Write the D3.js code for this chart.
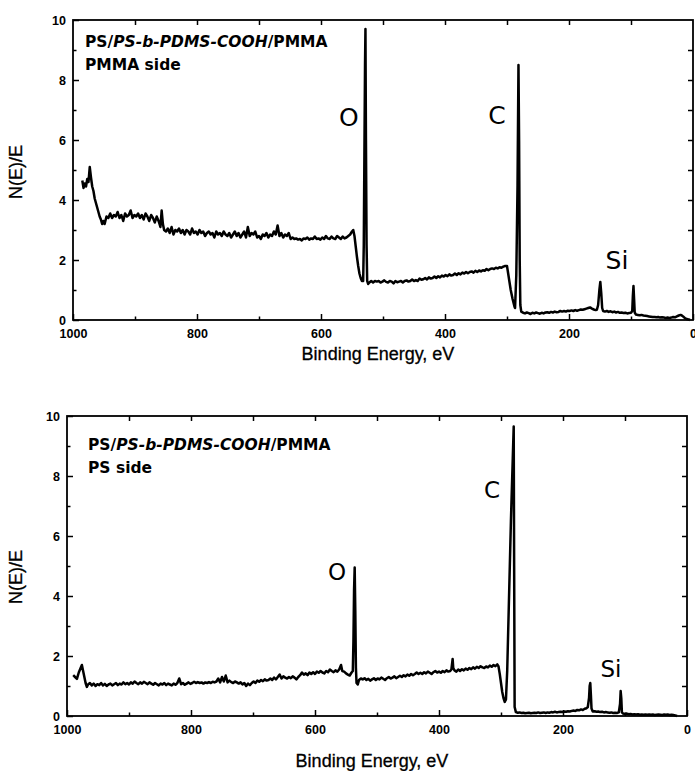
<!DOCTYPE html>
<html>
<head>
<meta charset="utf-8">
<script src="https://cdn.jsdelivr.net/npm/d3@7"></script>
<style>
body { margin: 0; background: #fff; }
</style>
</head>
<body>
<div id="app"></div>
<script>
// axis ticks
var xMajor = [1000, 800, 600, 400, 200, 0];
var xMinor = [900, 700, 500, 300, 100];
var yMajor = [0, 2, 4, 6, 8, 10];
var yMinor = [1, 3, 5, 7, 9];
var yAll = [1, 2, 3, 4, 5, 6, 7, 8, 9];
var xAll = [900, 800, 700, 600, 500, 400, 300, 200, 100];

// PMMA side spectrum: [binding energy eV, N(E)/E]
var pmmaSide = [[985,4.65],[983,4.4],[981,4.55],[979,4.45],[977,4.7],[975,4.6],[973,5.1],[971,4.75],[969,4.45],[967,4.3],[965,4.05],[963,3.9],[961,3.75],[959,3.6],[957,3.45],[955,3.35],[953,3.2],[951,3.3],[949,3.2],
[946,3.45],[943,3.4],[940,3.55],[937,3.4],[934,3.5],[931,3.45],[928,3.6],[925,3.4],[922,3.5],[919,3.3],[916,3.55],[913,3.45],[910,3.5],[907,3.65],[904,3.4],[901,3.5],[898,3.45],[895,3.55],[892,3.4],[889,3.5],[886,3.35],[883,3.55],[880,3.45],[877,3.3],[874,3.5],[871,3.4],[868,3.25],[865,3.45],[862,3.3],[859,3.1],[857,3.65],[855,3.2],[853,3.0],
[850,2.95],[847,3.05],[844,2.9],[841,3.1],[838,2.85],[835,3.0],[832,2.95],[829,3.05],[826,2.9],[823,3.0],[820,2.85],[817,3.0],[814,2.95],[811,2.85],[808,3.05],[805,2.9],[802,2.95],[799,2.85],[796,3.0],[793,2.9],[790,2.95],[787,2.8],[784,2.9],[781,2.95],[778,2.85],[775,2.9],[772,2.75],[769,2.95],[766,2.85],[763,2.9],[760,2.8],[757,2.95],[754,2.85],[751,2.8],[748,2.9],[745,2.75],[742,2.85],[739,2.95],[736,2.8],[733,2.9],[730,2.75],[727,2.85],[724,2.95],[721,2.75],[718,3.1],[715,2.8],[712,2.9],[709,2.85],[706,2.95],[703,2.75],[700,2.8],[697,2.7],[694,2.85],[691,2.8],[688,2.9],[685,2.75],[682,2.85],[679,2.8],[676,2.95],[673,2.85],[670,3.15],[667,2.8],[664,2.9],[661,2.75],[658,2.85],[655,2.8],[652,2.9],[649,2.7],[646,2.75],[643,2.7],[640,2.72],[637,2.68],[634,2.7],[631,2.65],[628,2.72],[625,2.7],[622,2.75],[619,2.68],[616,2.72],[613,2.7],[610,2.78],[607,2.7],[604,2.72],[601,2.68],[598,2.75],[595,2.7],[592,2.8],[589,2.72],[586,2.7],[583,2.78],[580,2.72],[577,2.7],[574,2.8],[571,2.75],[568,2.7],[565,2.78],[562,2.72],[559,2.75],[556,2.8],[553,2.85],[550,2.95],[548,3.0],
[546,2.8],[544,2.45],[542,2.1],[540,1.8],[538,1.55],[536,1.4],[534,1.3],[532,1.3],[531,2.5],[530,5.5],[529,8.5],[528.3,9.7],[527.5,6],[526.5,2.5],[525.5,1.3],[524,1.2],[522,1.25],
[519,1.3],[516,1.25],[513,1.3],[510,1.28],[507,1.3],[504,1.25],[501,1.28],[498,1.32],[495,1.27],[492,1.25],[489,1.3],[486,1.28],[483,1.22],[480,1.3],[477,1.26],[474,1.28],[471,1.3],[468,1.25],[465,1.3],[462,1.32],[459,1.28],[456,1.3],[453,1.35],[450,1.3],[447,1.33],[444,1.3],[441,1.38],[438,1.34],[435,1.36],[432,1.4],[429,1.35],[426,1.42],[423,1.38],[420,1.4],[417,1.45],[414,1.4],[411,1.46],[408,1.42],[405,1.48],[402,1.45],[399,1.5],[396,1.46],[393,1.52],[390,1.48],[387,1.5],[384,1.55],[381,1.5],[378,1.56],[375,1.52],[372,1.58],[369,1.55],[366,1.6],[363,1.56],[360,1.6],[357,1.62],[354,1.58],[351,1.64],[348,1.6],[345,1.65],[342,1.62],[339,1.66],[336,1.64],[333,1.7],[330,1.66],[327,1.7],[324,1.72],[321,1.7],[318,1.74],[315,1.72],[312,1.76],[309,1.74],[306,1.78],[303,1.8],[300,1.8],
[297,1.4],[294,1.0],[291,0.7],[288,0.45],[287,0.4],[285,1.5],[283,4.5],[281.5,8.5],[280.5,6],[279.5,2],[278.5,0.5],[277,0.28],
[274,0.24],[271,0.22],[268,0.25],[265,0.23],[262,0.2],[259,0.24],[256,0.22],[253,0.25],[250,0.23],[247,0.21],[244,0.24],[241,0.22],[238,0.25],[235,0.26],[232,0.24],[229,0.27],[226,0.25],[223,0.28],[220,0.26],[217,0.27],[214,0.3],[211,0.28],[208,0.3],[205,0.28],[202,0.31],[199,0.3],[196,0.32],[193,0.3],[190,0.33],[187,0.31],[184,0.33],[181,0.35],[178,0.34],[175,0.36],[172,0.38],[169,0.4],[166,0.42],[163,0.38],[160,0.35],[157,0.33],[155,0.34],
[153,0.5],[151,1.0],[149.5,1.27],[148,0.9],[146.5,0.4],[145,0.3],[142,0.28],[139,0.3],[136,0.27],[133,0.29],[130,0.26],[127,0.28],[124,0.25],[121,0.27],[118,0.24],[115,0.25],[112,0.23],[109,0.24],[106,0.22],[103,0.23],[100,0.24],
[98,0.3],[97,0.8],[96,1.13],[95,0.7],[94,0.25],[92,0.18],[89,0.17],[86,0.16],[83,0.17],[80,0.15],[77,0.14],[74,0.13],[71,0.12],[68,0.11],[65,0.1],[62,0.1],[59,0.09],[56,0.1],[53,0.08],[50,0.09],[47,0.08],[44,0.07],[41,0.08],[38,0.07],[35,0.08],[32,0.1],[29,0.09],[26,0.12],[23,0.15],[20,0.17],[18,0.15],[16,0.12],[13,0.06],[10,0.03],[7,0.02],[5,0.0]];

// PS side spectrum: [binding energy eV, N(E)/E]
var psSide = [[990,1.36],[987,1.3],[984,1.24],[981,1.45],[978,1.6],[976,1.7],[974,1.5],[972,1.3],[970,1.1],[968,0.97],[966,1.05],[963,1.1],[960,1.02],[957,1.08],[954,1.0],[951,1.06],[948,1.03],[945,1.1],[942,1.02],[939,1.07],[936,1.0],[933,1.05],[930,1.08],[927,1.02],[924,1.06],[921,1.1],[918,1.03],[915,1.08],[912,1.05],[909,1.12],[906,1.06],[903,1.1],[900,1.05],[897,1.12],[894,1.08],[891,1.15],[888,1.1],[885,1.06],[882,1.12],[879,1.08],[876,1.14],[873,1.1],[870,1.06],[867,1.12],[864,1.08],[861,1.04],[858,1.1],[855,1.06],[852,1.02],[849,1.08],[846,1.05],[843,1.1],[840,1.03],[837,1.08],[834,1.05],[831,1.02],[828,1.08],[825,1.04],[822,1.1],[819,1.25],[816,1.06],[813,1.1],[810,1.04],[807,1.08],[804,1.12],[801,1.07],[798,1.1],[795,1.14],[792,1.1],[789,1.13],[786,1.1],[783,1.12],[780,1.08],[777,1.12],[774,1.1],[771,1.13],[768,1.1],[765,1.14],[762,1.12],[759,1.15],[756,1.25],[753,1.12],[750,1.3],[747,1.15],[744,1.35],[741,1.12],[738,1.18],[735,1.13],[732,1.1],[729,1.15],[726,1.12],[723,1.08],[720,1.12],[717,1.05],[714,1.1],[711,1.0],[708,1.08],[705,1.03],[702,1.1],[699,1.15],[696,1.1],[693,1.18],[690,1.14],[687,1.2],[684,1.16],[681,1.22],[678,1.18],[675,1.2],[672,1.25],[669,1.2],[666,1.28],[663,1.22],[660,1.3],[657,1.38],[654,1.25],[651,1.32],[648,1.28],[645,1.25],[642,1.3],[639,1.26],[636,1.32],[633,1.28],[630,1.22],[627,1.3],[624,1.36],[621,1.45],[618,1.38],[615,1.42],[612,1.36],[609,1.45],[606,1.4],[603,1.46],[600,1.4],[597,1.48],[594,1.44],[591,1.5],[588,1.45],[585,1.42],[582,1.5],[579,1.46],[576,1.55],[573,1.5],[570,1.46],[567,1.52],[564,1.48],[561,1.55],[558,1.7],[556,1.5],[553,1.48],[550,1.42],[547,1.38],[544,1.35],[541,1.45],[539,1.5],
[538,2.5],[537,4.2],[536,4.95],[535,3.5],[534,1.6],[533,1.1],[531,1.05],[529,1.2],[526,1.25],[523,1.22],[520,1.26],[517,1.2],[514,1.24],[511,1.18],[508,1.22],[505,1.26],[502,1.2],[499,1.25],[496,1.22],[493,1.28],[490,1.24],[487,1.2],[484,1.26],[481,1.3],[478,1.25],[475,1.28],[472,1.32],[469,1.26],[466,1.3],[463,1.34],[460,1.3],[457,1.36],[454,1.32],[451,1.38],[448,1.34],[445,1.4],[442,1.36],[439,1.4],[436,1.45],[433,1.4],[430,1.44],[427,1.4],[424,1.46],[421,1.42],[418,1.48],[415,1.44],[412,1.4],[409,1.46],[406,1.5],[403,1.45],[400,1.48],[397,1.44],[394,1.5],[391,1.46],[388,1.52],[385,1.48],[382,1.5],[380,1.55],[378,1.9],[377,1.6],[375,1.52],[372,1.48],[369,1.55],[366,1.5],[363,1.56],[360,1.52],[357,1.58],[354,1.54],[351,1.6],[348,1.56],[345,1.62],[342,1.58],[339,1.64],[336,1.6],[333,1.66],[330,1.62],[327,1.6],[324,1.65],[321,1.62],[318,1.68],[315,1.64],[312,1.7],[309,1.66],[306,1.72],[304,1.65],
[302,1.4],[300,1.1],[298,0.8],[296,0.6],[294,0.47],[292,0.55],[290,1.5],[287,4],[284,6.5],[281,8.6],[279.5,9.65],[278.8,5],[278,0.3],[276,0.13],
[273,0.11],[270,0.12],[267,0.1],[264,0.11],[261,0.09],[258,0.1],[255,0.11],[252,0.09],[249,0.1],[246,0.11],[243,0.1],[240,0.12],[237,0.1],[234,0.11],[231,0.12],[228,0.1],[225,0.12],[222,0.11],[219,0.13],[216,0.12],[213,0.14],[210,0.12],[207,0.13],[204,0.14],[201,0.13],[198,0.15],[195,0.14],[192,0.16],[189,0.15],[186,0.17],[183,0.18],[180,0.17],[177,0.2],[174,0.19],[171,0.22],[168,0.2],[165,0.24],[162,0.26],[160,0.3],
[158,0.6],[157,1.0],[156,1.1],[155,0.7],[154,0.25],[152,0.15],[149,0.16],[146,0.14],[143,0.15],[140,0.13],[137,0.14],[134,0.12],[131,0.13],[128,0.12],[125,0.11],[122,0.12],[119,0.1],[116,0.11],[113,0.1],[110,0.12],
[108,0.4],[107,0.83],[106,0.6],[105,0.12],[103,0.08],[100,0.07],[97,0.08],[94,0.06],[91,0.07],[88,0.05],[85,0.06],[82,0.05],[79,0.06],[76,0.04],[73,0.05],[70,0.04],[67,0.05],[64,0.04],[61,0.05],[58,0.04],[55,0.05],[52,0.03],[49,0.04],[46,0.05],[43,0.04],[40,0.03],[37,0.05],[34,0.04],[31,0.05],[28,0.03],[25,0.04],[22,0.03],[19,0.02],[16,0.0]];

// peak labels: [text, binding energy, N(E)/E of baseline]
var pmmaPeaks = [["O", 555, 6.47], ["C", 316, 6.53], ["Si", 122.6, 1.7]];
var psPeaks = [["O", 564.5, 4.53], ["C", 314.5, 7.27], ["Si", 122.6, 1.3]];

var titleParts = ["PS/", "PS-b-PDMS-COOH", "/PMMA"];
var pmmaSub = "PMMA side";
var psSub = "PS side";

var width = 695, height = 771;
var svg = d3.select("#app").append("svg")
    .attr("width", width)
    .attr("height", height);

var panels = [
    {data: pmmaSide, peaks: pmmaPeaks, sub: pmmaSub, left: 73, right: 693, top: 20, bottom: 320,
     peakSize: 25, textX: 85, textY: 47, xTitleY: 360, yTitleY: 172},
    {data: psSide, peaks: psPeaks, sub: psSub, left: 67, right: 687, top: 416, bottom: 716,
     peakSize: 23, textX: 88, textY: 450, xTitleY: 767, yTitleY: 577}
];

panels.forEach(function(p) {
    var g = svg.append("g");
    var x = d3.scaleLinear().domain([1000, 0]).range([p.left, p.right]);
    var y = d3.scaleLinear().domain([0, 10]).range([p.bottom, p.top]);

    function clean(sel) {
        sel.select(".domain").remove();
        sel.selectAll("line").attr("stroke", "#000").attr("stroke-width", 1.5);
        sel.selectAll("text")
            .attr("font-family", "'Liberation Sans', Arial, sans-serif")
            .attr("font-weight", "bold")
            .attr("font-size", 12.5)
            .attr("fill", "#000");
    }

    // bottom axis
    g.append("g").attr("transform", "translate(0," + p.bottom + ")")
        .call(d3.axisBottom(x).tickValues(xMajor).tickSize(-6).tickPadding(9).tickFormat(d3.format("d")))
        .call(clean);
    g.append("g").attr("transform", "translate(0," + p.bottom + ")")
        .call(d3.axisBottom(x).tickValues(xMinor).tickSize(-3.5).tickFormat(""))
        .call(clean);
    // top axis
    g.append("g").attr("transform", "translate(0," + p.top + ")")
        .call(d3.axisTop(x).tickValues(xAll).tickSize(-5).tickFormat(""))
        .call(clean);
    // left axis
    g.append("g").attr("transform", "translate(" + p.left + ",0)")
        .call(d3.axisLeft(y).tickValues(yMajor).tickSize(-6).tickPadding(7))
        .call(clean);
    g.append("g").attr("transform", "translate(" + p.left + ",0)")
        .call(d3.axisLeft(y).tickValues(yMinor).tickSize(-3.5).tickFormat(""))
        .call(clean);
    // right axis
    g.append("g").attr("transform", "translate(" + p.right + ",0)")
        .call(d3.axisRight(y).tickValues(yAll).tickSize(-5).tickFormat(""))
        .call(clean);

    g.append("rect")
        .attr("x", p.left).attr("y", p.top)
        .attr("width", p.right - p.left).attr("height", p.bottom - p.top)
        .attr("fill", "none").attr("stroke", "#000").attr("stroke-width", 1.8);

    var line = d3.line()
        .x(function(d) { return x(d[0]); })
        .y(function(d) { return y(d[1]); });

    g.append("path")
        .datum(p.data)
        .attr("d", line)
        .attr("fill", "none")
        .attr("stroke", "#000")
        .attr("stroke-width", 2.5)
        .attr("stroke-linejoin", "round");

    // peak labels
    g.selectAll(".peak").data(p.peaks).enter().append("text")
        .attr("x", function(d) { return x(d[1]); })
        .attr("y", function(d) { return y(d[2]); })
        .attr("text-anchor", "middle")
        .attr("font-family", "'DejaVu Sans', sans-serif")
        .attr("font-size", p.peakSize)
        .text(function(d) { return d[0]; });

    // sample description
    var t1 = g.append("text")
        .attr("x", p.textX).attr("y", p.textY)
        .attr("font-family", "'DejaVu Sans', sans-serif")
        .attr("font-weight", "bold")
        .attr("font-size", 15.5);
    titleParts.forEach(function(s, i) {
        t1.append("tspan").attr("font-style", i == 1 ? "italic" : "normal").text(s);
    });
    g.append("text")
        .attr("x", p.textX).attr("y", p.textY + 23)
        .attr("font-family", "'DejaVu Sans', sans-serif")
        .attr("font-weight", "bold")
        .attr("font-size", 15.5)
        .text(p.sub);

    // axis titles
    g.append("text")
        .attr("x", (p.left + p.right) / 2 - 5).attr("y", p.xTitleY)
        .attr("text-anchor", "middle")
        .attr("font-family", "'Liberation Sans', Arial, sans-serif")
        .attr("font-size", 18)
        .attr("stroke", "#000").attr("stroke-width", 0.3)
        .text("Binding Energy, eV");
    g.append("text")
        .attr("transform", "translate(22," + p.yTitleY + ") rotate(-90)")
        .attr("text-anchor", "middle")
        .attr("font-family", "'Liberation Sans', Arial, sans-serif")
        .attr("font-size", 18)
        .attr("stroke", "#000").attr("stroke-width", 0.3)
        .text("N(E)/E");
});
</script>
</body>
</html>
